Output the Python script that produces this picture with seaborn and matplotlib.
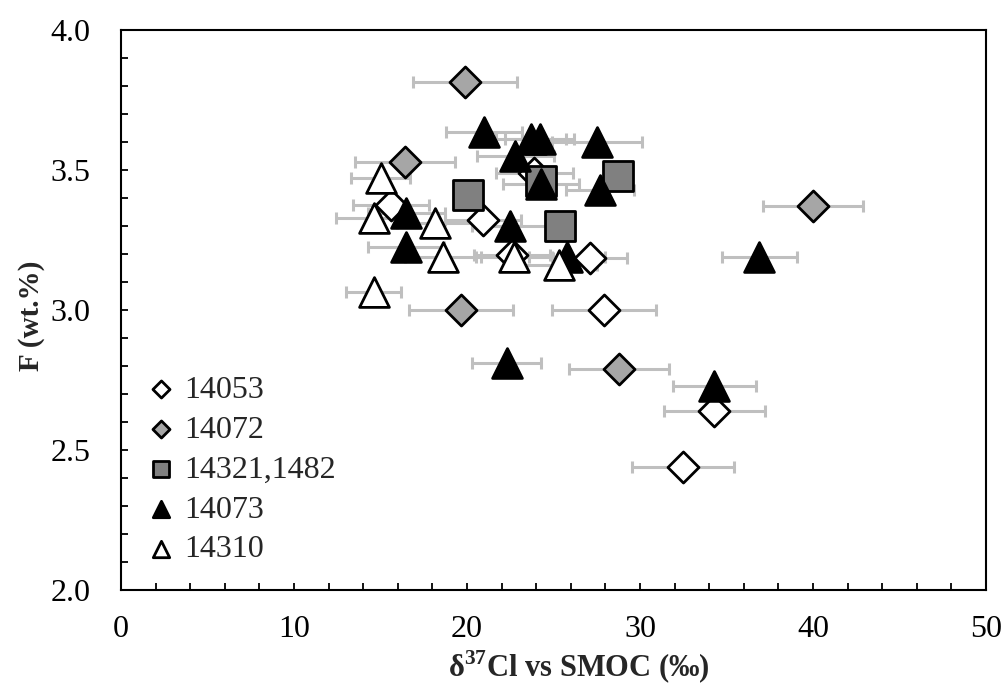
import numpy as np
import pandas as pd
import matplotlib
matplotlib.use("Agg")
import matplotlib.pyplot as plt
from matplotlib.ticker import MultipleLocator, FormatStrFormatter
import seaborn as sns

# ---- data ----
s14053_x = [15.6, 20.9, 22.6, 23.9, 27.1, 27.9, 34.3, 32.5]
s14053_y = [3.375, 3.32, 3.195, 3.49, 3.185, 3.0, 2.64, 2.44]
s14053_e = [2.2, 2.2, 2.2, 2.2, 2.15, 3.0, 2.9, 2.95]

s14072_x = [19.9, 16.4, 40.0, 19.65, 28.8]
s14072_y = [3.815, 3.53, 3.37, 3.0, 2.79]
s14072_e = [3.0, 2.9, 2.9, 3.0, 2.9]

s14321_x = [20.05, 24.3, 28.7, 25.4]
s14321_y = [3.41, 3.46, 3.48, 3.3]

s14073_x = [21.0, 23.7, 24.2, 27.5, 22.8, 24.3, 27.7, 16.5, 22.5, 16.45, 25.8, 36.9, 22.3, 34.3]
s14073_y = [3.635, 3.61, 3.61, 3.60, 3.55, 3.45, 3.43, 3.345, 3.30, 3.225, 3.19, 3.19, 2.81, 2.73]
s14073_e = [2.2, 2.0, 2.0, 2.6, 2.2, 2.2, 1.95, 2.2, 2.2, 2.2, 2.2, 2.15, 2.0, 2.4]

s14310_x = [15.0, 14.6, 18.15, 18.6, 22.7, 25.3, 14.6]
s14310_y = [3.47, 3.33, 3.31, 3.19, 3.19, 3.16, 3.065]
s14310_e = [1.7, 2.2, 2.2, 2.2, 2.2, 2.2, 1.6]

labels = ["14053", "14072", "14321,1482", "14073", "14310"]
x_ticks = [0, 10, 20, 30, 40, 50]
y_ticks = [2.0, 2.5, 3.0, 3.5, 4.0]

sns.set_style("ticks")
plt.rcParams["font.family"] = ["Liberation Serif", "DejaVu Serif"]
plt.rcParams["mathtext.fontset"] = "custom"
plt.rcParams["mathtext.rm"] = "Liberation Serif"
plt.rcParams["mathtext.bf"] = "Liberation Serif:bold"

fig = plt.figure(figsize=(10.06, 6.9), dpi=100)
ax = fig.add_axes([121/1006, 100/690, (986-121)/1006, (590-30)/690])

errc = "#BFBFBF"
for xs, ys, es in [(s14053_x, s14053_y, s14053_e), (s14072_x, s14072_y, s14072_e),
                   (s14073_x, s14073_y, s14073_e), (s14310_x, s14310_y, s14310_e)]:
    ax.errorbar(xs, ys, xerr=es, fmt="none", ecolor=errc, elinewidth=2.2,
                capsize=4.5, capthick=2.2, zorder=1)

series = [
    (s14053_x, s14053_y, labels[0], "D", "white", 250, 3),
    (s14321_x, s14321_y, labels[2], "s", "#808080", 450, 4),
    (s14072_x, s14072_y, labels[1], "D", "#A6A6A6", 250, 5),
    (s14073_x, s14073_y, labels[3], "^", "black", 460, 6),
    (s14310_x, s14310_y, labels[4], "^", "white", 460, 7),
]
for xs, ys, lab, mk, fc, sz, z in series:
    df = pd.DataFrame({"x": xs, "y": ys})
    sns.scatterplot(data=df, x="x", y="y", ax=ax, marker=mk, color=fc,
                    edgecolor="black", linewidth=2.0, s=sz, zorder=z, label=lab,
                    legend=False)

ax.set_xlim(0, 50)
ax.set_ylim(2.0, 4.0)
ax.set_xticks(x_ticks)
ax.set_yticks(y_ticks)
ax.yaxis.set_major_formatter(FormatStrFormatter("%.1f"))
ax.xaxis.set_minor_locator(MultipleLocator(2))
ax.yaxis.set_minor_locator(MultipleLocator(0.1))
ax.tick_params(axis="both", which="both", direction="in", length=5, width=1.3,
               top=False, right=False, labelsize=23, colors="black")
ax.tick_params(axis="x", which="major", pad=18)
ax.tick_params(axis="y", which="major", pad=22)
for sp in ax.spines.values():
    sp.set_visible(True)
    sp.set_linewidth(1.5)
    sp.set_color("black")

ax.set_xlabel(r"δ$^{\mathbf{37}}$Cl vs SMOC (‰)", fontsize=22, fontweight="bold")
ax.set_ylabel("F (wt.%)", fontsize=21, fontweight="bold")
ax.xaxis.set_label_coords(0.529, -0.105)
ax.yaxis.set_label_coords(-0.088, 0.49)

h, l = ax.get_legend_handles_labels()
order = [l.index(name) for name in labels]
leg = ax.legend([h[i] for i in order], [l[i] for i in order], loc="upper left",
                bbox_to_anchor=(0.032, 0.383), frameon=False, fontsize=23,
                markerscale=0.55, handletextpad=0.3, labelspacing=0.33,
                handlelength=0.8, borderaxespad=0.0, borderpad=0.0)

fig.savefig("out.png", dpi=100)
